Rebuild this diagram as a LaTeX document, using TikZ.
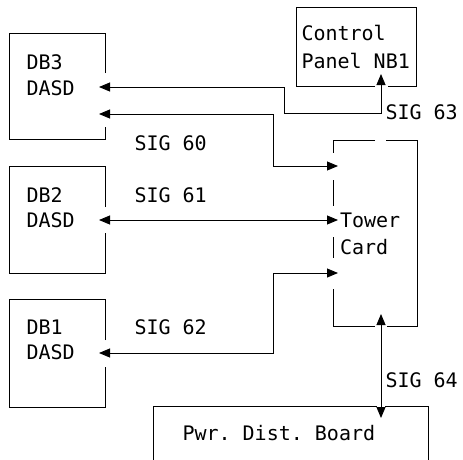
\documentclass[tikz,border=0pt]{standalone}
\usepackage{fontspec}
\setmonofont{DejaVu Sans Mono}
\usetikzlibrary{arrows.meta}
\begin{document}
\begin{tikzpicture}[x=1pt,y=-1pt,
  boxline/.style={line width=0.9pt, line join=miter},
  conn/.style={line width=0.9pt, {Triangle[length=11pt,width=9pt]}-{Triangle[length=11pt,width=9pt]}},
  lbl/.style={anchor=base west, inner sep=0pt, outer sep=0pt, font=\ttfamily\fontsize{20}{20}\selectfont}]
\useasboundingbox (0,0) rectangle (463,459);

% box outlines (with gaps where the connectors enter)
\draw[boxline] (105,73) -- (105,33) -- (9,33) -- (9,139) -- (105,139) -- (105,127);
\draw[boxline] (105,207) -- (105,166) -- (9,166) -- (9,273) -- (105,273) -- (105,233);
\draw[boxline] (105,340) -- (105,299) -- (9,299) -- (9,407) -- (105,407) -- (105,367);
\draw[boxline] (375,86) -- (296,86) -- (296,7) -- (416,7) -- (416,86) -- (388,86);
\draw[boxline] (375,140) -- (333,140) -- (333,153);
\draw[boxline] (333,180) -- (333,206);
\draw[boxline] (333,237) -- (333,258);
\draw[boxline] (333,289) -- (333,326) -- (375,326);
\draw[boxline] (387,326) -- (417,326) -- (417,140) -- (386,140);
\draw[boxline] (377,406) -- (153,406) -- (153,460);
\draw[boxline] (385,406) -- (428,406) -- (428,460);

% texts
\node[lbl] (db3a) at (26.5,69) {DB3};
\node[lbl] (db3b) at (26.5,95) {DASD};
\node[lbl] (db2a) at (26.5,202) {DB2};
\node[lbl] (db2b) at (26.5,227) {DASD};
\node[lbl] (db1a) at (26.5,334) {DB1};
\node[lbl] (db1b) at (26.5,359) {DASD};
\node[lbl] (cpa) at (301.5,40) {Control};
\node[lbl] (cpb) at (301.5,68) {Panel NB1};
\node[lbl] (twa) at (340,227) {Tower};
\node[lbl] (twb) at (340,254) {Card};
\node[lbl] (pwr) at (182.5,440) {Pwr. Dist. Board};
\node[lbl] (s60) at (134.5,150) {SIG 60};
\node[lbl] (s61) at (134.5,202) {SIG 61};
\node[lbl] (s62) at (134.5,334) {SIG 62};
\node[lbl] (s63) at (385.5,119) {SIG 63};
\node[lbl] (s64) at (385.5,387) {SIG 64};

% connector end points
\coordinate (p3a) at (99,87);
\coordinate (p3b) at (99,114);
\coordinate (p2) at (99,220);
\coordinate (p1) at (99,353);
\coordinate (pcp) at (381,74);
\coordinate (pt1) at (338,166);
\coordinate (pt2) at (338,220);
\coordinate (pt3) at (338,273);
\coordinate (ptb) at (381,314);
\coordinate (ppw) at (381,418);

% connectors
\draw[conn] (p3a) -- (284,87) -- (284,113) -- (381,113) -- (pcp);
\draw[conn] (p3b) -- (273,114) -- (273,166) -- (pt1);
\draw[conn] (p2) -- (pt2);
\draw[conn] (p1) -- (273,353) -- (273,273) -- (pt3);
\draw[conn] (ptb) -- (ppw);
\end{tikzpicture}
\end{document}
